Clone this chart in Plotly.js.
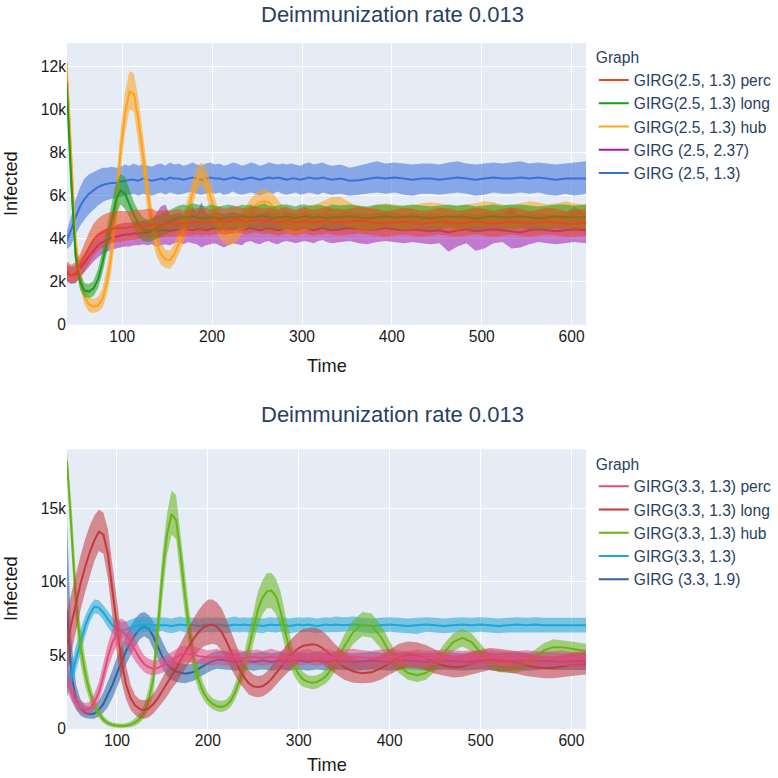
<!DOCTYPE html>
<html>
<head>
<meta charset="utf-8">
<script src="https://cdn.plot.ly/plotly-3.0.1.min.js"></script>
<style>html,body{margin:0;padding:0;background:#fff}#chart{width:778px;height:778px}</style>
</head>
<body>
<div id="chart"></div>
<script>
// ---------- Data (values in thousands of infected; converted to counts below) ----------
// Top panel time grid
const timeTop = [
  38,43,48,53,58,63,68,73,78,83,
  88,93,98,103,108,113,118,123,128,133,
  138,143,148,153,158,163,168,173,178,183,
  188,193,198,203,208,213,218,223,228,233,
  238,243,248,253,258,263,268,273,278,283,
  288,293,298,303,308,313,318,323,328,333,
  343,353,363,373,383,393,403,413,423,433,
  443,453,463,473,483,493,503,513,523,533,
  543,553,563,573,583,593,603,616];

// GIRG(2.5, 1.3) hub
const hub25Mean = [
  12.2,8.2,3.8,2.2,1.3,0.95,0.85,0.9,1.2,2.0,
  3.3,5.5,8.0,9.8,10.85,10.75,9.5,7.9,6.2,4.7,
  3.8,3.3,3.05,3.0,3.3,3.8,4.4,5.2,6.1,6.75,
  7.0,6.7,6.0,5.2,4.6,4.3,4.2,4.25,4.4,4.7,
  5.0,5.3,5.55,5.7,5.75,5.7,5.5,5.25,5.0,4.85,
  4.75,4.75,4.8,4.9,5.0,5.05,5.1,5.2,5.3,5.35,
  5.35,5.1,4.95,4.9,5.0,5.1,5.05,4.95,5.0,5.1,
  5.15,5.1,5.0,4.95,5.05,5.1,5.2,5.15,5.05,5.0,
  5.1,5.2,5.15,5.05,5.1,5.2,5.1,5.1];
const hub25Lo = [
  11.6,7.3,3.1,1.7,0.95,0.6,0.55,0.6,0.8,1.4,
  2.5,4.5,7.0,8.9,10.0,9.9,8.5,6.9,5.3,4.0,
  3.2,2.8,2.65,2.6,2.85,3.3,3.8,4.5,5.5,6.2,
  6.5,6.1,5.3,4.5,4.0,3.8,3.7,3.75,3.9,4.2,
  4.5,4.8,5.0,5.15,5.2,5.15,4.95,4.7,4.45,4.3,
  4.2,4.2,4.25,4.35,4.45,4.5,4.55,4.65,4.75,4.8,
  4.8,4.55,4.4,4.35,4.45,4.55,4.5,4.4,4.45,4.55,
  4.6,4.55,4.45,4.4,4.5,4.55,4.65,4.6,4.5,4.45,
  4.55,4.65,4.6,4.5,4.55,4.65,4.55,4.55];
const hub25Hi = [
  12.7,9.1,4.6,2.7,1.7,1.35,1.2,1.3,1.7,2.7,
  4.2,6.5,9.0,10.8,11.8,11.7,10.5,8.9,7.1,5.5,
  4.4,3.8,3.5,3.45,3.8,4.4,5.1,5.9,6.7,7.35,
  7.55,7.3,6.7,5.9,5.2,4.85,4.75,4.8,5.0,5.3,
  5.6,5.85,6.1,6.25,6.3,6.25,6.1,5.8,5.55,5.4,
  5.3,5.3,5.35,5.45,5.55,5.6,5.65,5.75,5.85,5.95,
  5.95,5.7,5.5,5.45,5.55,5.65,5.6,5.5,5.55,5.65,
  5.7,5.65,5.55,5.5,5.6,5.65,5.75,5.7,5.6,5.55,
  5.65,5.75,5.7,5.6,5.65,5.75,5.65,5.6];

// GIRG (2.5, 1.3)
const base25Mean = [
  3.9,4.4,5.0,5.5,5.85,6.1,6.25,6.4,6.5,6.55,
  6.6,6.6,6.65,6.7,6.75,6.75,6.7,6.8,6.75,6.7,
  6.75,6.8,6.75,6.85,6.8,6.8,6.75,6.8,6.85,6.8,
  6.75,6.8,6.85,6.8,6.8,6.75,6.8,6.85,6.8,6.75,
  6.8,6.85,6.8,6.75,6.8,6.85,6.8,6.85,6.8,6.75,
  6.8,6.8,6.75,6.8,6.85,6.8,6.8,6.85,6.8,6.75,
  6.8,6.7,6.72,6.78,6.85,6.8,6.85,6.8,6.75,6.8,
  6.8,6.75,6.8,6.85,6.8,6.75,6.8,6.85,6.8,6.8,
  6.85,6.8,6.85,6.8,6.75,6.8,6.8,6.8];
const base25Lo = [
  3.5,3.7,4.2,4.6,4.9,5.15,5.35,5.55,5.7,5.8,
  5.85,5.9,5.95,6.0,6.05,6.1,6.0,6.1,6.05,6.0,
  6.1,6.15,6.05,6.15,6.1,6.05,6.1,6.15,6.2,6.1,
  6.05,6.1,6.15,6.1,6.15,6.05,6.1,6.2,6.1,6.05,
  6.1,6.15,6.1,6.0,6.1,6.15,6.1,6.2,6.1,6.05,
  6.1,6.15,6.05,6.1,6.15,6.1,6.05,6.15,6.1,6.05,
  6.1,6.0,6.05,6.1,6.15,6.1,6.15,6.05,6.0,6.1,
  6.1,6.05,6.1,6.15,6.1,6.0,6.05,6.15,6.1,6.1,
  6.15,6.1,6.15,6.05,6.0,6.1,6.0,6.1];
const base25Hi = [
  4.3,5.1,5.8,6.4,6.8,7.0,7.1,7.2,7.3,7.3,
  7.35,7.3,7.35,7.45,7.4,7.5,7.4,7.45,7.4,7.35,
  7.45,7.5,7.4,7.55,7.45,7.5,7.4,7.45,7.55,7.45,
  7.4,7.5,7.55,7.45,7.5,7.4,7.45,7.55,7.5,7.4,
  7.45,7.55,7.5,7.4,7.45,7.55,7.5,7.45,7.5,7.45,
  7.5,7.45,7.4,7.5,7.55,7.45,7.5,7.55,7.45,7.4,
  7.45,7.3,7.4,7.5,7.6,7.5,7.55,7.5,7.45,7.5,
  7.5,7.45,7.55,7.6,7.5,7.45,7.5,7.55,7.5,7.55,
  7.6,7.5,7.55,7.5,7.45,7.5,7.55,7.6];

// GIRG(2.5, 1.3) long
const long25Mean = [
  11.3,6.8,3.2,2.0,1.6,1.55,1.7,2.1,2.9,3.9,
  4.9,5.8,6.25,6.1,5.6,5.1,4.7,4.45,4.35,4.4,
  4.5,4.6,4.7,4.8,4.9,5.0,5.0,5.0,5.05,5.0,
  4.95,4.95,5.0,5.0,4.95,4.95,5.0,5.0,5.0,5.05,
  5.0,5.0,5.0,5.05,5.05,5.0,4.95,5.0,5.0,5.05,
  5.0,4.95,5.0,5.05,5.0,5.0,5.05,5.0,4.95,5.0,
  5.0,5.05,5.0,4.95,5.0,5.05,5.0,5.0,5.05,5.0,
  4.95,5.0,5.05,5.0,5.0,4.95,5.0,5.05,5.0,5.0,
  5.05,5.0,4.95,5.0,5.05,5.0,5.0,5.0];
const long25Lo = [
  10.8,6.0,2.7,1.65,1.3,1.25,1.35,1.7,2.4,3.3,
  4.3,5.1,5.6,5.4,5.0,4.5,4.1,3.9,3.85,3.9,
  4.0,4.1,4.2,4.3,4.4,4.45,4.45,4.5,4.5,4.45,
  4.4,4.45,4.45,4.4,4.4,4.45,4.45,4.4,4.45,4.5,
  4.45,4.4,4.45,4.5,4.45,4.4,4.4,4.45,4.4,4.5,
  4.45,4.4,4.45,4.5,4.45,4.4,4.5,4.45,4.4,4.45,
  4.45,4.5,4.45,4.4,4.45,4.5,4.45,4.4,4.5,4.45,
  4.4,4.45,4.5,4.45,4.45,4.4,4.45,4.5,4.45,4.45,
  4.5,4.45,4.4,4.45,4.5,4.45,4.45,4.45];
const long25Hi = [
  11.9,7.6,3.8,2.4,1.95,1.9,2.05,2.6,3.5,4.6,
  5.6,6.6,7.0,6.9,6.3,5.7,5.3,5.0,4.9,4.95,
  5.05,5.15,5.25,5.35,5.45,5.55,5.6,5.55,5.65,5.6,
  5.55,5.5,5.6,5.55,5.5,5.55,5.6,5.55,5.5,5.6,
  5.55,5.6,5.5,5.6,5.65,5.55,5.5,5.55,5.6,5.6,
  5.55,5.5,5.6,5.6,5.55,5.55,5.6,5.55,5.5,5.6,
  5.55,5.6,5.55,5.5,5.6,5.6,5.55,5.55,5.6,5.55,
  5.5,5.55,5.6,5.55,5.6,5.5,5.55,5.6,5.55,5.6,
  5.6,5.55,5.5,5.55,5.6,5.6,5.55,5.6];

// GIRG(2.5, 1.3) perc
const perc25Mean = [
  2.55,2.3,2.4,2.75,3.15,3.6,3.95,4.2,4.3,4.4,
  4.45,4.5,4.5,4.5,4.55,4.55,4.6,4.6,4.6,4.65,
  4.65,4.65,4.7,4.7,4.7,4.75,4.7,4.75,4.75,4.8,
  4.75,4.8,4.75,4.8,4.85,4.8,4.8,4.85,4.9,4.85,
  4.8,4.85,4.9,4.85,4.8,4.85,4.8,4.75,4.8,4.85,
  4.8,4.75,4.8,4.85,4.8,4.75,4.8,4.8,4.85,4.8,
  4.75,4.8,4.85,4.8,4.75,4.7,4.75,4.8,4.75,4.7,
  4.75,4.8,4.75,4.7,4.75,4.8,4.75,4.7,4.75,4.8,
  4.75,4.7,4.75,4.8,4.75,4.7,4.7,4.75];
const perc25Lo = [
  2.1,1.95,1.95,2.2,2.5,2.85,3.2,3.45,3.6,3.7,
  3.8,3.85,3.85,3.9,3.95,3.95,4.0,4.0,4.0,4.05,
  4.05,4.05,4.1,4.1,4.1,4.15,4.1,4.15,4.15,4.2,
  4.15,4.2,4.15,4.2,4.25,4.2,4.2,4.25,4.3,4.25,
  4.2,4.25,4.3,4.25,4.2,4.25,4.2,4.15,4.2,4.25,
  4.2,4.15,4.2,4.25,4.2,4.15,4.2,4.2,4.25,4.2,
  4.15,4.2,4.25,4.2,4.15,4.1,4.15,4.2,4.15,4.1,
  4.15,4.2,4.15,4.1,4.15,4.2,4.15,4.1,4.15,4.2,
  4.15,4.1,4.15,4.2,4.15,4.1,4.1,4.15];
const perc25Hi = [
  2.95,2.8,2.9,3.3,3.8,4.3,4.7,4.95,5.1,5.2,
  5.25,5.3,5.3,5.3,5.3,5.35,5.35,5.35,5.4,5.4,
  5.3,5.3,5.35,5.3,5.35,5.4,5.3,5.4,5.35,5.45,
  5.4,5.45,5.35,5.4,5.5,5.4,5.45,5.5,5.5,5.45,
  5.4,5.5,5.5,5.45,5.4,5.45,5.4,5.35,5.45,5.5,
  5.4,5.35,5.45,5.5,5.4,5.35,5.4,5.45,5.5,5.4,
  5.35,5.4,5.5,5.45,5.4,5.3,5.35,5.45,5.4,5.3,
  5.35,5.45,5.4,5.3,5.35,5.45,5.4,5.3,5.4,5.45,
  5.4,5.3,5.35,5.45,5.4,5.3,5.35,5.4];

// GIRG (2.5, 2.37)
const alt25Mean = [
  2.4,2.3,2.35,2.6,2.9,3.2,3.45,3.7,3.85,3.95,
  4.05,4.1,4.15,4.2,4.2,4.25,4.25,4.3,4.3,4.35,
  4.35,4.4,4.4,4.35,4.4,4.45,4.4,4.45,4.4,4.45,
  4.45,4.4,4.45,4.5,4.45,4.4,4.45,4.5,4.45,4.4,
  4.45,4.5,4.45,4.4,4.45,4.5,4.45,4.4,4.45,4.5,
  4.45,4.4,4.45,4.5,4.45,4.4,4.45,4.5,4.45,4.4,
  4.45,4.5,4.45,4.4,4.45,4.5,4.45,4.4,4.45,4.4,
  4.35,4.4,4.3,4.4,4.45,4.35,4.4,4.45,4.4,4.35,
  4.3,4.4,4.45,4.4,4.35,4.4,4.45,4.4];
const alt25Lo = [
  2.0,1.9,1.95,2.15,2.45,2.7,2.95,3.15,3.3,3.4,
  3.5,3.55,3.6,3.65,3.65,3.7,3.7,3.75,3.7,3.75,
  3.65,3.7,3.75,3.7,3.8,3.85,3.75,3.85,3.8,3.75,
  3.6,3.7,3.75,3.8,3.7,3.6,3.7,3.8,3.75,3.7,
  3.85,3.9,3.8,3.75,3.85,3.9,3.8,3.75,3.85,3.9,
  3.85,3.8,3.85,3.9,3.85,3.8,3.9,3.95,3.85,3.8,
  3.85,3.9,3.8,3.75,3.85,3.9,3.85,3.8,3.85,3.8,
  3.75,3.8,3.4,3.65,3.8,3.45,3.55,3.8,3.85,3.55,
  3.6,3.75,3.85,3.8,3.75,3.8,3.85,3.8];
const alt25Hi = [
  2.8,2.7,2.75,3.05,3.4,3.7,3.95,4.25,4.4,4.5,
  4.6,4.65,4.7,4.75,4.75,4.8,4.8,4.85,4.85,4.9,
  5.2,5.5,5.6,5.1,5.15,5.2,5.1,5.3,5.5,5.2,
  5.7,5.2,5.15,5.25,5.2,5.15,5.2,5.25,5.2,5.15,
  5.2,5.25,5.2,5.15,5.2,5.25,5.2,5.15,5.2,5.25,
  5.2,5.15,5.2,5.25,5.2,5.15,5.2,5.25,5.2,5.15,
  5.2,5.25,5.2,5.15,5.2,5.25,5.2,5.15,5.2,5.15,
  5.1,5.15,5.05,5.15,5.2,5.1,5.15,5.2,5.15,5.5,
  5.05,5.15,5.2,5.15,5.1,5.15,5.5,5.2];

// Bottom panel time grid
const timeBottom = [
  45,50,55,60,65,70,75,80,85,90,
  95,100,105,110,115,120,125,130,135,140,
  145,150,155,160,165,170,175,180,185,190,
  195,200,205,210,215,220,225,230,235,240,
  245,250,255,260,265,270,275,280,285,290,
  295,300,305,310,315,320,325,330,335,340,
  350,360,370,380,390,400,410,420,430,440,
  450,460,470,480,490,500,510,520,530,540,
  550,560,570,580,590,600,616];

// GIRG(3.3, 1.3) hub
const hub33Mean = [
  18.2,13.6,8.5,5.6,3.8,2.5,1.65,1.05,0.65,0.4,
  0.28,0.22,0.2,0.22,0.3,0.45,0.7,1.15,2.0,3.4,
  6.9,10.5,13.2,14.6,14.2,11.8,9.0,6.5,4.5,3.3,
  2.5,2.0,1.7,1.55,1.5,1.6,1.9,2.5,3.3,4.3,
  5.5,6.9,8.1,8.9,9.35,9.4,9.0,8.0,6.6,5.3,
  4.3,3.7,3.35,3.2,3.15,3.2,3.35,3.6,4.0,4.5,
  5.6,6.6,7.1,7.0,6.3,5.2,4.3,3.8,3.65,3.8,
  4.4,5.2,5.9,6.2,5.9,5.2,4.6,4.3,4.2,4.2,
  4.5,4.9,5.35,5.55,5.55,5.45,5.3];
const hub33Lo = [
  17.6,12.0,7.0,4.4,2.9,1.9,1.2,0.75,0.4,0.22,
  0.12,0.08,0.07,0.08,0.12,0.22,0.4,0.75,1.3,2.3,
  5.4,8.9,11.8,13.2,12.9,10.3,7.6,5.3,3.6,2.6,
  2.0,1.6,1.35,1.2,1.15,1.25,1.5,2.0,2.7,3.5,
  4.5,5.8,7.0,7.8,8.2,8.2,7.8,6.8,5.5,4.4,
  3.6,3.1,2.85,2.75,2.7,2.75,2.9,3.1,3.45,3.9,
  4.8,5.8,6.3,6.2,5.5,4.5,3.8,3.35,3.2,3.35,
  3.9,4.6,5.3,5.6,5.3,4.6,4.1,3.85,3.8,3.8,
  4.05,4.4,4.85,5.05,5.05,4.95,4.8];
const hub33Hi = [
  18.9,15.2,10.2,6.9,4.8,3.2,2.1,1.4,0.9,0.6,
  0.45,0.38,0.36,0.4,0.5,0.75,1.1,1.7,2.8,4.6,
  8.4,12.0,14.6,16.2,15.9,13.4,10.5,7.8,5.5,4.1,
  3.1,2.45,2.1,1.95,1.9,2.0,2.35,3.1,4.0,5.2,
  6.6,8.0,9.3,10.1,10.6,10.6,10.2,9.3,7.8,6.3,
  5.0,4.3,3.85,3.65,3.6,3.65,3.8,4.1,4.6,5.1,
  6.4,7.4,7.95,7.85,7.1,5.95,4.85,4.3,4.1,4.25,
  4.9,5.8,6.5,6.8,6.5,5.8,5.1,4.75,4.6,4.6,
  4.95,5.4,5.85,6.1,6.05,5.95,5.8];

// GIRG(3.3, 1.3) long
const long33Mean = [
  5.8,7.2,8.6,9.9,11.0,12.0,12.8,13.4,13.2,11.9,
  9.4,6.8,4.6,3.0,2.1,1.6,1.35,1.3,1.4,1.7,
  2.1,2.6,3.1,3.6,4.1,4.7,5.2,5.7,6.2,6.6,
  6.9,7.05,7.1,6.95,6.6,6.0,5.3,4.6,4.0,3.5,
  3.1,2.9,2.85,2.9,3.1,3.4,3.8,4.2,4.6,4.95,
  5.25,5.5,5.65,5.7,5.75,5.7,5.55,5.3,5.0,4.7,
  4.2,3.9,3.78,3.85,4.1,4.5,4.85,5.05,5.0,4.8,
  4.5,4.3,4.2,4.25,4.45,4.6,4.75,4.7,4.6,4.5,
  4.35,4.2,4.15,4.15,4.25,4.35,4.4];
const long33Lo = [
  3.8,5.3,6.7,8.1,9.3,10.4,11.4,12.1,11.9,10.2,
  7.6,5.0,3.2,2.0,1.3,0.95,0.75,0.7,0.8,1.05,
  1.4,1.8,2.2,2.7,3.1,3.6,4.1,4.5,4.9,5.3,
  5.6,5.7,5.8,5.7,5.3,4.8,4.2,3.6,3.1,2.7,
  2.35,2.2,2.15,2.2,2.4,2.65,3.0,3.35,3.7,4.0,
  4.3,4.5,4.6,4.6,4.6,4.55,4.45,4.25,4.0,3.75,
  3.35,3.15,3.1,3.15,3.35,3.7,4.0,4.2,4.15,4.0,
  3.75,3.6,3.5,3.55,3.7,3.85,4.0,3.95,3.85,3.75,
  3.6,3.5,3.45,3.45,3.5,3.6,3.7];
const long33Hi = [
  8.0,9.3,10.6,11.8,12.9,13.8,14.5,14.9,14.7,13.6,
  11.1,8.7,6.3,4.3,3.0,2.3,2.0,1.95,2.05,2.4,
  2.9,3.5,4.1,4.7,5.3,5.9,6.5,7.1,7.6,8.1,
  8.5,8.8,8.8,8.6,8.2,7.5,6.7,5.9,5.1,4.5,
  4.0,3.7,3.6,3.65,3.9,4.3,4.7,5.2,5.6,6.0,
  6.3,6.6,6.8,6.85,6.9,6.85,6.7,6.45,6.1,5.75,
  5.2,4.8,4.6,4.7,5.0,5.4,5.8,5.95,5.9,5.7,
  5.4,5.1,5.0,5.05,5.25,5.4,5.5,5.45,5.4,5.3,
  5.15,5.0,4.95,4.95,5.05,5.15,5.2];

// GIRG(3.3, 1.3) perc
const perc33Mean = [
  3.4,2.5,1.85,1.45,1.3,1.4,1.8,2.5,3.6,4.9,
  5.9,6.5,6.65,6.4,5.9,5.3,4.8,4.4,4.2,4.1,
  4.15,4.3,4.5,4.7,4.9,5.05,5.1,5.1,5.05,4.95,
  4.9,4.85,4.85,4.9,4.85,4.8,4.85,4.9,4.85,4.8,
  4.85,4.9,4.85,4.8,4.85,4.9,4.85,4.8,4.85,4.9,
  4.85,4.8,4.85,4.9,4.85,4.8,4.85,4.9,4.85,4.8,
  4.85,4.9,4.85,4.8,4.85,4.9,4.85,4.8,4.85,4.8,
  4.85,4.9,4.85,4.8,4.85,4.8,4.85,4.8,4.75,4.8,
  4.85,4.8,4.75,4.8,4.8,4.75,4.8];
const perc33Lo = [
  2.6,1.9,1.4,1.05,0.9,1.0,1.3,1.9,2.9,4.1,
  5.0,5.7,5.85,5.6,5.1,4.6,4.2,3.85,3.7,3.65,
  3.7,3.8,4.0,4.2,4.35,4.5,4.55,4.55,4.5,4.4,
  4.4,4.35,4.3,4.4,4.35,4.3,4.35,4.4,4.3,4.3,
  4.35,4.4,4.35,4.3,4.35,4.4,4.35,4.3,4.35,4.4,
  4.35,4.3,4.35,4.4,4.35,4.3,4.35,4.4,4.35,4.3,
  4.35,4.4,4.35,4.3,4.35,4.4,4.35,4.3,4.35,4.3,
  4.35,4.4,4.35,4.3,4.35,4.3,4.35,4.3,4.25,4.3,
  4.35,4.3,4.25,4.3,4.3,4.25,4.3];
const perc33Hi = [
  4.4,3.2,2.4,1.9,1.75,1.85,2.4,3.2,4.5,5.8,
  6.8,7.4,7.5,7.3,6.8,6.1,5.5,5.0,4.75,4.65,
  4.7,4.85,5.05,5.25,5.45,5.6,5.65,5.65,5.6,5.5,
  5.4,5.35,5.4,5.45,5.35,5.3,5.4,5.45,5.35,5.3,
  5.35,5.4,5.4,5.3,5.35,5.45,5.35,5.3,5.4,5.45,
  5.35,5.3,5.4,5.45,5.35,5.3,5.35,5.45,5.4,5.3,
  5.4,5.45,5.35,5.3,5.4,5.45,5.35,5.3,5.4,5.3,
  5.35,5.4,5.35,5.3,5.35,5.3,5.4,5.3,5.25,5.3,
  5.35,5.3,5.25,5.3,5.35,5.25,5.3];

// GIRG(3.3, 1.3)
const base33Mean = [
  2.8,3.6,4.8,5.9,7.0,7.8,8.3,8.25,7.9,7.45,
  7.05,6.8,6.7,6.75,6.9,7.0,7.05,7.1,7.1,7.05,
  7.05,7.1,7.05,7.0,7.05,7.1,7.05,7.1,7.05,7.0,
  7.05,7.1,7.05,7.1,7.05,7.0,7.05,7.1,7.05,7.1,
  7.05,7.1,7.05,7.0,7.05,7.1,7.05,7.1,7.05,7.0,
  7.05,7.1,7.05,7.1,7.05,7.0,7.05,7.1,7.05,7.1,
  7.05,7.1,7.05,7.0,7.05,7.1,7.05,7.0,7.05,7.1,
  7.05,7.0,7.05,7.1,7.05,7.1,7.05,7.0,7.05,7.1,
  7.05,7.1,7.05,7.05,7.1,7.05,7.05];
const base33Lo = [
  2.2,2.9,4.0,5.1,6.3,7.25,7.85,7.8,7.4,6.9,
  6.5,6.25,6.15,6.25,6.4,6.5,6.55,6.6,6.6,6.55,
  6.6,6.65,6.55,6.5,6.6,6.65,6.55,6.6,6.6,6.5,
  6.55,6.6,6.55,6.6,6.55,6.5,6.55,6.6,6.55,6.6,
  6.55,6.6,6.55,6.5,6.6,6.6,6.55,6.6,6.55,6.5,
  6.55,6.6,6.55,6.6,6.55,6.5,6.55,6.6,6.55,6.6,
  6.6,6.65,6.55,6.5,6.55,6.6,6.55,6.5,6.45,6.6,
  6.55,6.5,6.55,6.6,6.55,6.6,6.55,6.5,6.55,6.6,
  6.55,6.6,6.55,6.55,6.6,6.55,6.55];
const base33Hi = [
  3.5,4.4,5.7,6.8,7.7,8.35,8.8,8.75,8.4,8.0,
  7.6,7.35,7.25,7.3,7.45,7.55,7.6,7.65,7.6,7.55,
  7.55,7.6,7.55,7.5,7.6,7.65,7.55,7.6,7.55,7.5,
  7.55,7.6,7.55,7.6,7.55,7.5,7.6,7.65,7.55,7.6,
  7.55,7.6,7.55,7.5,7.55,7.6,7.55,7.6,7.55,7.5,
  7.55,7.6,7.55,7.6,7.55,7.5,7.55,7.6,7.55,7.65,
  7.6,7.65,7.55,7.5,7.55,7.6,7.55,7.5,7.55,7.6,
  7.55,7.5,7.55,7.6,7.55,7.6,7.55,7.5,7.55,7.6,
  7.55,7.6,7.55,7.55,7.6,7.55,7.55];

// GIRG (3.3, 1.9)
const alt33Mean = [
  8.0,3.6,2.0,1.4,1.1,1.0,1.05,1.3,1.7,2.3,
  3.0,3.8,4.6,5.3,5.9,6.4,6.8,6.95,6.8,6.3,
  5.6,4.9,4.4,4.1,3.9,3.8,3.75,3.8,3.9,4.1,
  4.3,4.45,4.6,4.7,4.7,4.65,4.6,4.55,4.6,4.65,
  4.6,4.55,4.6,4.65,4.6,4.55,4.6,4.65,4.6,4.55,
  4.6,4.65,4.6,4.55,4.6,4.65,4.6,4.55,4.6,4.65,
  4.6,4.55,4.6,4.65,4.6,4.55,4.6,4.65,4.6,4.55,
  4.6,4.65,4.6,4.55,4.6,4.65,4.6,4.55,4.6,4.6,
  4.55,4.6,4.65,4.6,4.55,4.6,4.6];
const alt33Lo = [
  3.5,2.0,1.3,0.9,0.75,0.7,0.7,0.85,1.1,1.5,
  2.1,2.8,3.6,4.4,5.0,5.6,6.1,6.3,6.1,5.5,
  4.8,4.1,3.6,3.35,3.2,3.15,3.1,3.2,3.3,3.5,
  3.7,3.85,4.0,4.1,4.1,4.05,4.0,3.95,4.0,4.05,
  4.0,3.95,4.0,4.05,4.0,3.95,4.0,4.05,4.0,3.95,
  4.0,4.05,4.0,3.95,4.0,4.05,4.0,3.95,4.0,4.05,
  4.0,3.95,4.0,4.05,4.0,3.95,4.0,4.05,4.0,3.95,
  4.0,4.05,4.0,3.95,4.0,4.05,4.0,3.9,3.95,4.0,
  3.95,4.0,4.05,4.0,3.95,4.0,4.0];
const alt33Hi = [
  14.0,6.0,3.0,2.0,1.6,1.5,1.6,1.9,2.5,3.2,
  4.0,4.9,5.7,6.4,7.0,7.5,7.85,7.95,7.75,7.3,
  6.6,5.9,5.3,4.9,4.6,4.5,4.4,4.4,4.5,4.7,
  4.9,5.05,5.2,5.3,5.3,5.25,5.2,5.15,5.2,5.25,
  5.2,5.15,5.2,5.25,5.2,5.15,5.2,5.25,5.2,5.15,
  5.2,5.25,5.2,5.15,5.2,5.25,5.2,5.15,5.2,5.25,
  5.2,5.15,5.2,5.25,5.2,5.15,5.2,5.25,5.2,5.15,
  5.2,5.25,5.2,5.15,5.2,5.25,5.2,5.15,5.2,5.2,
  5.15,5.2,5.25,5.2,5.15,5.2,5.2];

const tickTime = [100, 200, 300, 400, 500, 600];
const chartTitle = 'Deimmunization rate 0.013';

// ---------- Build traces ----------
const FONT = 'Liberation Sans, Arial, sans-serif';
const toCount = a => a.map(v => v * 1000);
function rgba(hex, a) {
  const n = parseInt(hex.slice(1), 16);
  return 'rgba(' + ((n >> 16) & 255) + ',' + ((n >> 8) & 255) + ',' + (n & 255) + ',' + a + ')';
}
const traces = [];
function addSeries(T, mean, lo, hi, color, name, xa, ya, legendId) {
  traces.push({
    type: 'scatter', mode: 'lines', xaxis: xa, yaxis: ya,
    x: T.concat(T.slice().reverse()),
    y: toCount(hi.concat(lo.slice().reverse())),
    fill: 'toself', fillcolor: rgba(color, 0.55),
    line: {width: 0, color: color}, hoverinfo: 'skip', showlegend: false, legend: legendId
  });
  traces.push({
    type: 'scatter', mode: 'lines', xaxis: xa, yaxis: ya,
    x: T, y: toCount(mean), name: name,
    line: {color: color, width: 2}, legend: legendId
  });
}
// Top panel (drawn in reverse legend order)
addSeries(timeTop, base25Mean, base25Lo, base25Hi, '#3b6fd9', 'GIRG (2.5, 1.3)', 'x', 'y', 'legend');
addSeries(timeTop, alt25Mean, alt25Lo, alt25Hi, '#a61aab', 'GIRG (2.5, 2.37)', 'x', 'y', 'legend');
addSeries(timeTop, hub25Mean, hub25Lo, hub25Hi, '#ffa21a', 'GIRG(2.5, 1.3) hub', 'x', 'y', 'legend');
addSeries(timeTop, long25Mean, long25Lo, long25Hi, '#1c9c1c', 'GIRG(2.5, 1.3) long', 'x', 'y', 'legend');
addSeries(timeTop, perc25Mean, perc25Lo, perc25Hi, '#e8481e', 'GIRG(2.5, 1.3) perc', 'x', 'y', 'legend');
// Bottom panel
addSeries(timeBottom, alt33Mean, alt33Lo, alt33Hi, '#2d64a0', 'GIRG (3.3, 1.9)', 'x2', 'y2', 'legend2');
addSeries(timeBottom, base33Mean, base33Lo, base33Hi, '#1ea6d6', 'GIRG(3.3, 1.3)', 'x2', 'y2', 'legend2');
addSeries(timeBottom, hub33Mean, hub33Lo, hub33Hi, '#67b515', 'GIRG(3.3, 1.3) hub', 'x2', 'y2', 'legend2');
addSeries(timeBottom, long33Mean, long33Lo, long33Hi, '#c4393b', 'GIRG(3.3, 1.3) long', 'x2', 'y2', 'legend2');
addSeries(timeBottom, perc33Mean, perc33Lo, perc33Hi, '#e6497b', 'GIRG(3.3, 1.3) perc', 'x2', 'y2', 'legend2');

const tickFont = {family: FONT, size: 15.6, color: '#1a1a1a'};
const axTitleFont = {family: FONT, size: 18.2, color: '#1a1a1a'};
const legFont = {family: FONT, size: 15.6, color: '#2a3f5f'};
function xAxis(range, anchor) {
  return {domain: [0, 1], anchor: anchor, range: range, tickvals: tickTime,
    gridcolor: '#ffffff', zeroline: false, showline: false, ticks: '',
    tickfont: tickFont};
}
function yAxis(range, dtick, domain, anchor) {
  return {domain: domain, anchor: anchor, range: range, dtick: dtick, tick0: 0,
    gridcolor: '#ffffff', zeroline: false, showline: false, ticks: '',
    tickfont: tickFont};
}
// paper coordinates: plot area spans x 67..586 px, y 43..729 px
const PW = 519, PH = 686, PT = 43;
const py = px => (729 - px) / PH;
const pxX = px => (px - 67) / PW;
function note(text, x, y, font, extra) {
  return Object.assign({text: text, xref: 'paper', yref: 'paper', x: x, y: y,
    xanchor: 'center', yanchor: 'middle', showarrow: false, font: font}, extra || {});
}
const titleFont = {family: FONT, size: 22, color: '#2a3f5f'};
const layout = {
  width: 778, height: 778,
  margin: {l: 67, r: 192, t: 43, b: 49, autoexpand: false},
  paper_bgcolor: '#ffffff', plot_bgcolor: '#E5ECF6',
  font: {family: FONT, color: '#2a3f5f'},
  showlegend: true,
  xaxis: xAxis([38.5, 616], 'y'),
  yaxis: yAxis([0, 13100], 2000, [0.589, 1], 'x'),
  xaxis2: xAxis([45, 616], 'y2'),
  yaxis2: yAxis([0, 19000], 5000, [0, 0.4077], 'x2'),
  legend: {x: 1.015, xanchor: 'left', y: 1, yanchor: 'top', traceorder: 'reversed',
    font: legFont, title: {text: 'Graph', font: legFont}, bgcolor: 'rgba(0,0,0,0)'},
  legend2: {x: 1.015, xanchor: 'left', y: 0.4077, yanchor: 'top', traceorder: 'reversed',
    font: legFont, title: {text: 'Graph', font: legFont}, bgcolor: 'rgba(0,0,0,0)'},
  annotations: [
    note(chartTitle, pxX(392), py(0), titleFont, {yanchor: 'top'}),
    note(chartTitle, pxX(392), py(414), titleFont),
    note('Time', 0.5, py(366), axTitleFont),
    note('Time', 0.5, py(765), axTitleFont),
    note('Infected', pxX(11), py(184), axTitleFont, {textangle: -90}),
    note('Infected', pxX(11), py(589), axTitleFont, {textangle: -90})
  ]
};
Plotly.newPlot('chart', traces, layout, {displayModeBar: false, staticPlot: true});
</script>
</body>
</html>
